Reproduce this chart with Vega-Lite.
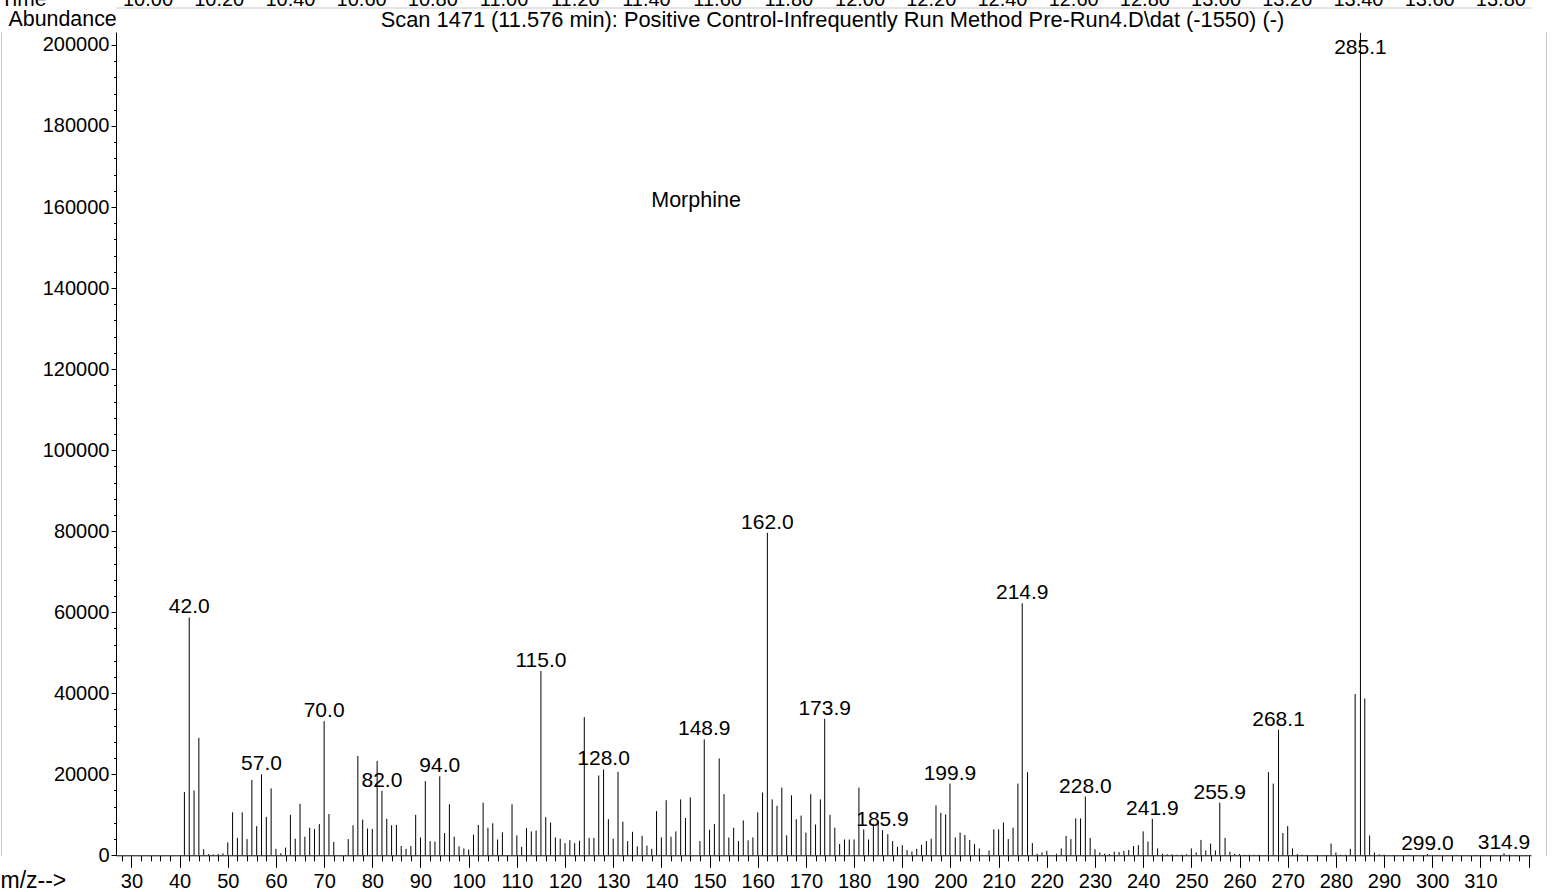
{
  "$schema": "https://vega.github.io/schema/vega-lite/v6.json",
  "width": 1415,
  "height": 823.3,
  "autosize": {"type": "none"},
  "padding": {"left": 116, "top": 32, "right": 23, "bottom": 36.7},
  "background": "white",
  "datasets": {
    "spectrum": [
      {"mz": 41, "abundance": 15600},
      {"mz": 42.0, "abundance": 58700, "label": "42.0"},
      {"mz": 43, "abundance": 16000},
      {"mz": 44, "abundance": 29000},
      {"mz": 45, "abundance": 1500},
      {"mz": 46, "abundance": 300},
      {"mz": 47, "abundance": 200},
      {"mz": 48, "abundance": 300},
      {"mz": 49, "abundance": 500},
      {"mz": 50, "abundance": 3200},
      {"mz": 51, "abundance": 10600},
      {"mz": 52, "abundance": 4300},
      {"mz": 53, "abundance": 10600},
      {"mz": 54, "abundance": 4000},
      {"mz": 55, "abundance": 18600},
      {"mz": 56, "abundance": 7200},
      {"mz": 57.0, "abundance": 20000, "label": "57.0"},
      {"mz": 58, "abundance": 9500},
      {"mz": 59, "abundance": 16500},
      {"mz": 60, "abundance": 1600},
      {"mz": 61, "abundance": 500},
      {"mz": 62, "abundance": 1900},
      {"mz": 63, "abundance": 10000},
      {"mz": 64, "abundance": 4100},
      {"mz": 65, "abundance": 12700},
      {"mz": 66, "abundance": 4600},
      {"mz": 67, "abundance": 6800},
      {"mz": 68, "abundance": 6500},
      {"mz": 69, "abundance": 7700},
      {"mz": 70.0, "abundance": 33100, "label": "70.0"},
      {"mz": 71, "abundance": 10200},
      {"mz": 72, "abundance": 3300},
      {"mz": 75, "abundance": 4000},
      {"mz": 76, "abundance": 7400},
      {"mz": 77, "abundance": 24500},
      {"mz": 78, "abundance": 8800},
      {"mz": 79, "abundance": 6600},
      {"mz": 80, "abundance": 6500},
      {"mz": 81, "abundance": 23300},
      {"mz": 82.0, "abundance": 15900, "label": "82.0"},
      {"mz": 83, "abundance": 9000},
      {"mz": 84, "abundance": 7400},
      {"mz": 85, "abundance": 7500},
      {"mz": 86, "abundance": 2300},
      {"mz": 87, "abundance": 1600},
      {"mz": 88, "abundance": 2300},
      {"mz": 89, "abundance": 10000},
      {"mz": 90, "abundance": 4400},
      {"mz": 91, "abundance": 18300},
      {"mz": 92, "abundance": 3500},
      {"mz": 93, "abundance": 3400},
      {"mz": 94.0, "abundance": 19500, "label": "94.0"},
      {"mz": 95, "abundance": 5500},
      {"mz": 96, "abundance": 12600},
      {"mz": 97, "abundance": 4600},
      {"mz": 98, "abundance": 2200},
      {"mz": 99, "abundance": 1700},
      {"mz": 100, "abundance": 1400},
      {"mz": 101, "abundance": 5100},
      {"mz": 102, "abundance": 7500},
      {"mz": 103, "abundance": 13000},
      {"mz": 104, "abundance": 6800},
      {"mz": 105, "abundance": 7900},
      {"mz": 106, "abundance": 3900},
      {"mz": 107, "abundance": 5700},
      {"mz": 109, "abundance": 12600},
      {"mz": 110, "abundance": 4900},
      {"mz": 111, "abundance": 2100},
      {"mz": 112, "abundance": 6700},
      {"mz": 113, "abundance": 5900},
      {"mz": 114, "abundance": 6100},
      {"mz": 115.0, "abundance": 45500, "label": "115.0"},
      {"mz": 116, "abundance": 9400},
      {"mz": 117, "abundance": 8100},
      {"mz": 118, "abundance": 4400},
      {"mz": 119, "abundance": 4100},
      {"mz": 120, "abundance": 3000},
      {"mz": 121, "abundance": 3700},
      {"mz": 122, "abundance": 3000},
      {"mz": 123, "abundance": 3600},
      {"mz": 124, "abundance": 34100},
      {"mz": 125, "abundance": 4300},
      {"mz": 126, "abundance": 4300},
      {"mz": 127, "abundance": 19700},
      {"mz": 128.0, "abundance": 21200, "label": "128.0"},
      {"mz": 129, "abundance": 8900},
      {"mz": 130, "abundance": 4100},
      {"mz": 131, "abundance": 20600},
      {"mz": 132, "abundance": 8300},
      {"mz": 133, "abundance": 3500},
      {"mz": 134, "abundance": 5800},
      {"mz": 135, "abundance": 2200},
      {"mz": 136, "abundance": 4800},
      {"mz": 137, "abundance": 2400},
      {"mz": 138, "abundance": 1600},
      {"mz": 139, "abundance": 10900},
      {"mz": 140, "abundance": 4400},
      {"mz": 141, "abundance": 13600},
      {"mz": 142, "abundance": 4600},
      {"mz": 143, "abundance": 5900},
      {"mz": 144, "abundance": 13800},
      {"mz": 145, "abundance": 9200},
      {"mz": 146, "abundance": 14300},
      {"mz": 148, "abundance": 3500},
      {"mz": 148.9, "abundance": 28600, "label": "148.9"},
      {"mz": 150, "abundance": 6300},
      {"mz": 151, "abundance": 7700},
      {"mz": 152, "abundance": 23900},
      {"mz": 153, "abundance": 15100},
      {"mz": 154, "abundance": 4400},
      {"mz": 155, "abundance": 6800},
      {"mz": 156, "abundance": 3500},
      {"mz": 157, "abundance": 8600},
      {"mz": 158, "abundance": 3700},
      {"mz": 159, "abundance": 4400},
      {"mz": 160, "abundance": 10600},
      {"mz": 161, "abundance": 15500},
      {"mz": 162.0, "abundance": 79600, "label": "162.0"},
      {"mz": 163, "abundance": 13800},
      {"mz": 164, "abundance": 12200},
      {"mz": 165, "abundance": 16700},
      {"mz": 166, "abundance": 4900},
      {"mz": 167, "abundance": 14800},
      {"mz": 168, "abundance": 8900},
      {"mz": 169, "abundance": 9800},
      {"mz": 170, "abundance": 5600},
      {"mz": 171, "abundance": 15100},
      {"mz": 172, "abundance": 7600},
      {"mz": 173, "abundance": 13800},
      {"mz": 173.9, "abundance": 33700, "label": "173.9"},
      {"mz": 175, "abundance": 10000},
      {"mz": 176, "abundance": 6800},
      {"mz": 177, "abundance": 2800},
      {"mz": 178, "abundance": 3900},
      {"mz": 179, "abundance": 3900},
      {"mz": 180, "abundance": 3900},
      {"mz": 181, "abundance": 16700},
      {"mz": 182, "abundance": 6400},
      {"mz": 183, "abundance": 3900},
      {"mz": 184, "abundance": 7800},
      {"mz": 185, "abundance": 8400},
      {"mz": 185.9, "abundance": 6200, "label": "185.9"},
      {"mz": 187, "abundance": 5200},
      {"mz": 188, "abundance": 3500},
      {"mz": 189, "abundance": 2100},
      {"mz": 190, "abundance": 2500},
      {"mz": 191, "abundance": 1300},
      {"mz": 192, "abundance": 900},
      {"mz": 193, "abundance": 1600},
      {"mz": 194, "abundance": 2600},
      {"mz": 195, "abundance": 3500},
      {"mz": 196, "abundance": 4100},
      {"mz": 197, "abundance": 12300},
      {"mz": 198, "abundance": 10500},
      {"mz": 199, "abundance": 10100},
      {"mz": 199.9, "abundance": 17700, "label": "199.9"},
      {"mz": 201, "abundance": 4400},
      {"mz": 202, "abundance": 5600},
      {"mz": 203, "abundance": 5000},
      {"mz": 204, "abundance": 3800},
      {"mz": 205, "abundance": 2800},
      {"mz": 206, "abundance": 1700},
      {"mz": 208, "abundance": 1200},
      {"mz": 209, "abundance": 6400},
      {"mz": 210, "abundance": 6400},
      {"mz": 211, "abundance": 8100},
      {"mz": 212, "abundance": 4000},
      {"mz": 213, "abundance": 6800},
      {"mz": 214, "abundance": 17700},
      {"mz": 214.9, "abundance": 62200, "label": "214.9"},
      {"mz": 216, "abundance": 20500},
      {"mz": 217, "abundance": 3000},
      {"mz": 218, "abundance": 400},
      {"mz": 219, "abundance": 700},
      {"mz": 220, "abundance": 1100},
      {"mz": 222, "abundance": 400},
      {"mz": 223, "abundance": 1700},
      {"mz": 224, "abundance": 4800},
      {"mz": 225, "abundance": 4000},
      {"mz": 226, "abundance": 9100},
      {"mz": 227, "abundance": 9100},
      {"mz": 228.0, "abundance": 14500, "label": "228.0"},
      {"mz": 229, "abundance": 4300},
      {"mz": 230, "abundance": 1500},
      {"mz": 231, "abundance": 700},
      {"mz": 232, "abundance": 400},
      {"mz": 233, "abundance": 300},
      {"mz": 234, "abundance": 900},
      {"mz": 235, "abundance": 800},
      {"mz": 236, "abundance": 1100},
      {"mz": 237, "abundance": 1300},
      {"mz": 238, "abundance": 2300},
      {"mz": 239, "abundance": 2500},
      {"mz": 240, "abundance": 5900},
      {"mz": 241, "abundance": 3400},
      {"mz": 241.9, "abundance": 9000, "label": "241.9"},
      {"mz": 243, "abundance": 1700},
      {"mz": 244, "abundance": 400},
      {"mz": 245, "abundance": 250},
      {"mz": 246, "abundance": 250},
      {"mz": 247, "abundance": 150},
      {"mz": 248, "abundance": 150},
      {"mz": 249, "abundance": 250},
      {"mz": 250, "abundance": 1700},
      {"mz": 251, "abundance": 700},
      {"mz": 252, "abundance": 3800},
      {"mz": 253, "abundance": 1200},
      {"mz": 254, "abundance": 2900},
      {"mz": 255, "abundance": 1200},
      {"mz": 255.9, "abundance": 13000, "label": "255.9"},
      {"mz": 257, "abundance": 4300},
      {"mz": 258, "abundance": 900},
      {"mz": 259, "abundance": 400},
      {"mz": 260, "abundance": 300},
      {"mz": 261, "abundance": 150},
      {"mz": 262, "abundance": 150},
      {"mz": 263, "abundance": 150},
      {"mz": 264, "abundance": 150},
      {"mz": 266, "abundance": 20500},
      {"mz": 267, "abundance": 17700},
      {"mz": 268.1, "abundance": 31000, "label": "268.1"},
      {"mz": 269, "abundance": 5500},
      {"mz": 270, "abundance": 7200},
      {"mz": 271, "abundance": 1700},
      {"mz": 272, "abundance": 300},
      {"mz": 273, "abundance": 150},
      {"mz": 274, "abundance": 100},
      {"mz": 276, "abundance": 100},
      {"mz": 278, "abundance": 100},
      {"mz": 279, "abundance": 2900},
      {"mz": 280, "abundance": 700},
      {"mz": 281, "abundance": 150},
      {"mz": 282, "abundance": 150},
      {"mz": 283, "abundance": 1600},
      {"mz": 284, "abundance": 39800},
      {"mz": 285.1, "abundance": 203000, "label": "285.1"},
      {"mz": 286, "abundance": 38700},
      {"mz": 287, "abundance": 4900},
      {"mz": 288, "abundance": 700},
      {"mz": 289, "abundance": 250},
      {"mz": 290, "abundance": 150},
      {"mz": 292, "abundance": 100},
      {"mz": 295, "abundance": 100},
      {"mz": 299.0, "abundance": 300, "label": "299.0"},
      {"mz": 301, "abundance": 100},
      {"mz": 305, "abundance": 100},
      {"mz": 309, "abundance": 100},
      {"mz": 314.9, "abundance": 500, "label": "314.9"},
      {"mz": 316, "abundance": 150}
    ],
    "timeTicks": [
      {"t": 10.0}, {"t": 10.2}, {"t": 10.4}, {"t": 10.6}, {"t": 10.8},
      {"t": 11.0}, {"t": 11.2}, {"t": 11.4}, {"t": 11.6}, {"t": 11.8},
      {"t": 12.0}, {"t": 12.2}, {"t": 12.4}, {"t": 12.6}, {"t": 12.8},
      {"t": 13.0}, {"t": 13.2}, {"t": 13.4}, {"t": 13.6}, {"t": 13.8}
    ]
  },
  "layer": [
    {
      "data": {"name": "spectrum"},
      "mark": {"type": "rule", "color": "#000000", "strokeWidth": 1},
      "encoding": {
        "x": {
          "field": "mz", "type": "quantitative",
          "scale": {"domain": [26.8, 320.5], "nice": false, "zero": false},
          "axis": {
            "orient": "bottom",
            "values": [30, 40, 50, 60, 70, 80, 90, 100, 110, 120, 130, 140, 150, 160, 170, 180, 190, 200, 210, 220, 230, 240, 250, 260, 270, 280, 290, 300, 310, 320],
            "format": "d",
            "labelExpr": "datum.value == 320 ? '' : datum.label",
            "tickSize": 12,
            "labelPadding": 4,
            "labelFontSize": 20,
            "title": "m/z-->",
            "titleX": -116,
            "titleY": 32.2,
            "titleAlign": "left",
            "titleBaseline": "alphabetic",
            "titleFontSize": 23
          }
        },
        "y": {
          "field": "abundance", "type": "quantitative",
          "scale": {"domain": [0, 203200], "nice": false},
          "axis": {
            "orient": "left",
            "values": [0, 20000, 40000, 60000, 80000, 100000, 120000, 140000, 160000, 180000, 200000],
            "format": "d",
            "tickSize": 5,
            "labelPadding": 2,
            "labelFontSize": 20,
            "title": "Abundance",
            "titleAngle": 0,
            "titleX": -108,
            "titleY": -6.5,
            "titleAlign": "left",
            "titleBaseline": "alphabetic",
            "titleFontSize": 21.4
          }
        },
        "y2": {"datum": 0}
      }
    },
    {
      "data": {"name": "spectrum"},
      "transform": [
        {"filter": "isValid(datum.label)"},
        {"calculate": "min(datum.abundance, 196700)", "as": "labelY"}
      ],
      "mark": {"type": "text", "align": "center", "baseline": "alphabetic", "dy": -4, "fontSize": 21, "font": "Liberation Sans", "color": "#000000"},
      "encoding": {
        "x": {
          "field": "mz", "type": "quantitative",
          "scale": {"domain": [26.8, 320.5], "nice": false, "zero": false},
          "axis": {
            "orient": "bottom",
            "domain": false,
            "labels": false,
            "title": null,
            "tickSize": 5.5,
            "values": [28,30,32,34,36,38,40,42,44,46,48,50,52,54,56,58,60,62,64,66,68,70,72,74,76,78,80,82,84,86,88,90,92,94,96,98,100,102,104,106,108,110,112,114,116,118,120,122,124,126,128,130,132,134,136,138,140,142,144,146,148,150,152,154,156,158,160,162,164,166,168,170,172,174,176,178,180,182,184,186,188,190,192,194,196,198,200,202,204,206,208,210,212,214,216,218,220,222,224,226,228,230,232,234,236,238,240,242,244,246,248,250,252,254,256,258,260,262,264,266,268,270,272,274,276,278,280,282,284,286,288,290,292,294,296,298,300,302,304,306,308,310,312,314,316,318,320]
          }
        },
        "y": {
          "field": "labelY", "type": "quantitative",
          "scale": {"domain": [0, 203200], "nice": false},
          "axis": {
            "orient": "left",
            "domain": false,
            "labels": false,
            "tickSize": 2.5,
            "values": [0,4000,8000,12000,16000,20000,24000,28000,32000,36000,40000,44000,48000,52000,56000,60000,64000,68000,72000,76000,80000,84000,88000,92000,96000,100000,104000,108000,112000,116000,120000,124000,128000,132000,136000,140000,144000,148000,152000,156000,160000,164000,168000,172000,176000,180000,184000,188000,192000,196000,200000],
            "title": "Scan 1471 (11.576 min): Positive Control-Infrequently Run Method Pre-Run4.D\\dat (-1550) (-)",
            "titleAngle": 0,
            "titleX": 716,
            "titleY": -5.5,
            "titleAlign": "center",
            "titleBaseline": "alphabetic",
            "titleFontSize": 21.8
          }
        },
        "text": {"field": "label"}
      }
    },
    {
      "data": {"values": [{"compound": "Morphine"}]},
      "mark": {"type": "text", "align": "center", "baseline": "middle", "fontSize": 21.5, "font": "Liberation Sans", "color": "#000000"},
      "encoding": {
        "x": {
          "datum": 147.2, "type": "quantitative",
          "scale": {"domain": [26.8, 320.5], "nice": false, "zero": false},
          "axis": null
        },
        "y": {
          "datum": 161500, "type": "quantitative",
          "axis": {
            "orient": "left",
            "offset": 115,
            "domainColor": "#c8c8c8",
            "ticks": false,
            "labels": false,
            "title": null
          }
        },
        "text": {"field": "compound"}
      }
    },
    {
      "data": {"name": "timeTicks"},
      "mark": {"type": "tick", "opacity": 0},
      "encoding": {
        "x": {
          "field": "t", "type": "quantitative",
          "scale": {"domain": [9.9115, 13.886], "nice": false, "zero": false},
          "axis": {
            "orient": "top",
            "offset": 24.5,
            "values": [10.0, 10.2, 10.4, 10.6, 10.8, 11.0, 11.2, 11.4, 11.6, 11.8, 12.0, 12.2, 12.4, 12.6, 12.8, 13.0, 13.2, 13.4, 13.6, 13.8],
            "format": ".2f",
            "ticks": false,
            "tickSize": 0,
            "labelPadding": 2,
            "labelBaseline": "alphabetic",
            "labelFontSize": 20,
            "domainColor": "#c8c8c8",
            "title": "Time",
            "titleX": -116,
            "titleY": -2,
            "titleAngle": 0,
            "titleAlign": "left",
            "titleBaseline": "alphabetic",
            "titleFontSize": 21
          }
        },
        "y": {
          "datum": 0, "type": "quantitative",
          "axis": {
            "orient": "right",
            "offset": 15,
            "domainColor": "#c8c8c8",
            "ticks": false,
            "labels": false,
            "title": null
          }
        }
      }
    }
  ],
  "resolve": {"scale": {"x": "independent"}, "axis": {"x": "independent", "y": "independent"}},
  "config": {
    "view": {"stroke": null},
    "font": "Liberation Sans",
    "axis": {
      "grid": false,
      "labelFont": "Liberation Sans",
      "titleFont": "Liberation Sans",
      "labelColor": "#000000",
      "titleColor": "#000000",
      "domainColor": "#000000",
      "tickColor": "#000000",
      "domainWidth": 1,
      "tickWidth": 1,
      "labelFlush": false,
      "labelOverlap": false,
      "titleFontWeight": "normal",
      "titlePadding": 0
    }
  }
}
